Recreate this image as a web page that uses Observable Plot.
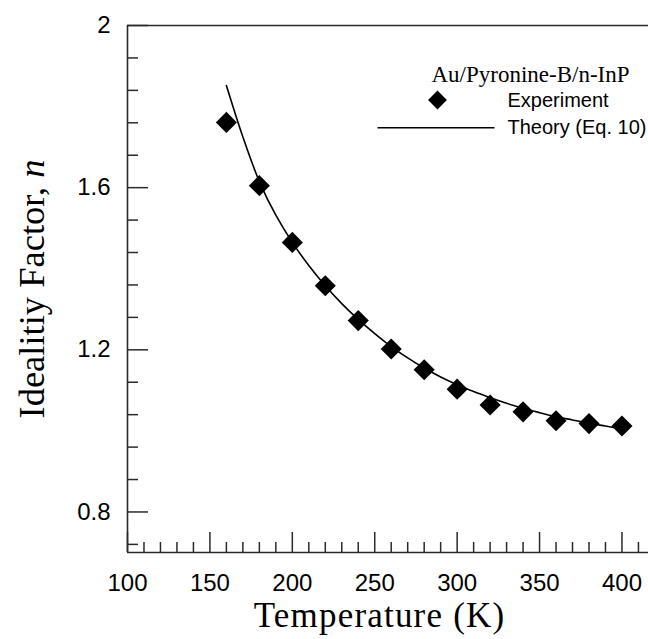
<!DOCTYPE html>
<html><head><meta charset="utf-8">
<script src="https://cdn.jsdelivr.net/npm/d3@7"></script>
<script src="https://cdn.jsdelivr.net/npm/@observablehq/plot@0.6"></script>
<style>body{margin:0;background:#fff}#chart{width:648px;height:639px}</style>
</head><body><div id="chart"></div>
<script>
// Experimental points
const expT = [160, 180, 200, 220, 240, 260, 280, 300, 320, 340, 360, 380, 400];
const expN = [1.761, 1.605, 1.465, 1.358, 1.272, 1.202, 1.151, 1.103, 1.064, 1.047, 1.025, 1.018, 1.012];
// Theory curve (Eq. 10)
const theoryT = [160, 170, 180, 190, 200, 210, 220, 230, 240, 250, 260, 270, 280, 290, 300, 310, 320, 330, 340, 350, 360, 370, 380, 390, 400];
const theoryN = [1.852, 1.725, 1.615, 1.532, 1.465, 1.408, 1.358, 1.314, 1.275, 1.240, 1.208, 1.180, 1.155, 1.133, 1.114, 1.097, 1.082, 1.068, 1.056, 1.045, 1.035, 1.027, 1.019, 1.012, 1.005];
// Ticks
const xMajorTicks = [100, 150, 200, 250, 300, 350, 400];
const xMinorTicks = [110, 120, 130, 140, 160, 170, 180, 190, 210, 220, 230, 240, 260, 270, 280, 290, 310, 320, 330, 340, 360, 370, 380, 390, 410];
const yMajorTicks = [0.8, 1.2, 1.6, 2];
const yMinorTicks = [0.72, 0.88, 0.96, 1.04, 1.12, 1.28, 1.36, 1.44, 1.52, 1.68, 1.76, 1.84, 1.92];
// Texts
const legendTitle = "Au/Pyronine-B/n-InP";
const seriesNames = ["Experiment", "Theory (Eq. 10)"];
const xLabel = "Temperature (K)";
const yLabel = "Idealitiy Factor, n";

const experiment = expT.map((t, i) => ({T: t, n: expN[i]}));
const theory = theoryT.map((t, i) => ({T: t, n: theoryN[i]}));

const W = 648, H = 639, mL = 127, mR = 0, mT = 25, mB = 87;
const fw = W - mL - mR, fh = H - mT - mB;
const sans = "Liberation Sans, Arial, sans-serif";
const serif = "Liberation Serif, Times New Roman, serif";
const ink = "#2a2a2a";

const lineSymbol = {draw(ctx) { ctx.moveTo(-58.5, 0); ctx.lineTo(58.5, 0); }};

const chart = Plot.plot({
  width: W, height: H,
  marginLeft: mL, marginRight: mR, marginTop: mT, marginBottom: mB,
  style: {background: "white", color: "black"},
  x: {domain: [100, 416.1], axis: null},
  y: {domain: [0.7, 2], axis: null},
  marks: [
    Plot.ruleX([100], {stroke: ink, strokeWidth: 1.6}),
    Plot.ruleY([0.7], {stroke: ink, strokeWidth: 1.6}),
    Plot.ruleY([2], {stroke: ink, strokeWidth: 1.6}),
    Plot.tickX(xMajorTicks, {x: d => d, insetTop: fh - 20, stroke: ink, strokeWidth: 1.5}),
    Plot.tickX(xMinorTicks, {x: d => d, insetTop: fh - 10, stroke: ink, strokeWidth: 1.5}),
    Plot.tickY(yMajorTicks, {y: d => d, insetRight: fw - 21, stroke: ink, strokeWidth: 1.5}),
    Plot.tickY(yMinorTicks, {y: d => d, insetRight: fw - 11, stroke: ink, strokeWidth: 1.5}),
    Plot.axisX({ticks: xMajorTicks, tickSize: 0, tickPadding: 21, fontSize: 24, fontFamily: sans, label: null, tickFormat: d => String(d)}),
    Plot.axisY({ticks: yMajorTicks, tickSize: 0, tickPadding: 17, fontSize: 24, fontFamily: sans, label: null, tickFormat: d => String(d)}),
    Plot.line(theory, {x: "T", y: "n", curve: "catmull-rom", stroke: "black", strokeWidth: 1.6}),
    Plot.dot(experiment, {x: "T", y: "n", symbol: "diamond2", r: 9.5, fill: "black", stroke: "none"}),
    // legend
    Plot.text([legendTitle], {frameAnchor: "top-left", dx: 431 - mL, dy: 81.5 - mT, textAnchor: "start", lineAnchor: "bottom", fontSize: 23, fontFamily: serif, fill: "black"}),
    Plot.dot([seriesNames[0]], {frameAnchor: "top-left", dx: 437 - mL, dy: 99.5 - mT, symbol: "diamond2", r: 8.5, fill: "black", stroke: "none"}),
    Plot.text([seriesNames[0]], {frameAnchor: "top-left", dx: 507 - mL, dy: 106 - mT, textAnchor: "start", lineAnchor: "bottom", fontSize: 20, fontFamily: sans, fill: "black"}),
    Plot.dot([seriesNames[1]], {frameAnchor: "top-left", dx: 435.5 - mL, dy: 127.3 - mT, symbol: lineSymbol, fill: "none", stroke: "black", strokeWidth: 1.6}),
    Plot.text([seriesNames[1]], {frameAnchor: "top-left", dx: 507 - mL, dy: 133 - mT, textAnchor: "start", lineAnchor: "bottom", fontSize: 20, fontFamily: sans, fill: "black"}),
    // axis titles
    Plot.text([xLabel], {frameAnchor: "bottom", textAnchor: "middle", dx: -8.5, dy: 626 - (H - mB), lineAnchor: "bottom", fontSize: 35, fontFamily: serif, fill: "black"}),
    Plot.text([yLabel], {frameAnchor: "left", textAnchor: "middle", rotate: -90, dx: 43 - mL, dy: 0, lineAnchor: "bottom", fontSize: 36.5, fontFamily: serif, fill: "black"})
  ]
});

chart.querySelectorAll("text").forEach(t => {
  if (t.textContent === yLabel) {
    const target = t.querySelector("tspan") || t;
    target.textContent = "Idealitiy Factor, ";
    const it = document.createElementNS("http://www.w3.org/2000/svg", "tspan");
    it.setAttribute("font-style", "italic");
    it.textContent = "n";
    target.appendChild(it);
  } else if (t.textContent === xLabel) {
    t.setAttribute("letter-spacing", "1.2px");
  }
});

document.getElementById("chart").appendChild(chart);
</script>
</body></html>
